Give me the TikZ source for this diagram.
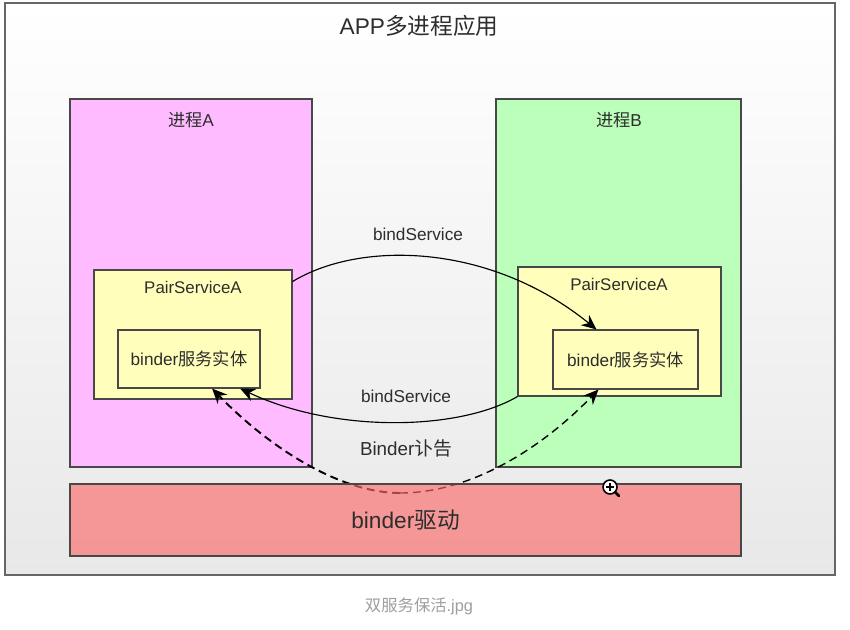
\documentclass[tikz,border=0pt]{standalone}
\usepackage{fontspec}
\setmainfont{Liberation Sans}
\newfontfamily\cjk{Noto Sans CJK SC}
\definecolor{bdgray}{RGB}{72,72,72}
\definecolor{bdtext}{RGB}{45,45,45}
\definecolor{bdpink}{RGB}{255,187,255}
\definecolor{bdgreen}{RGB}{187,255,187}
\definecolor{bdyellow}{RGB}{255,255,187}
\definecolor{bdred}{RGB}{252,107,107}
\usetikzlibrary{arrows.meta,positioning}
\tikzset{
  box/.style={draw=bdgray, line width=0.6pt, inner sep=0pt, font=\fontsize{9.8}{12}\selectfont, text=bdtext},
  label/.style={font=\fontsize{9.8}{12}\selectfont, text=bdtext, inner sep=0pt},
  link/.style={-{Stealth[length=8.5pt,width=7.5pt]}, line width=0.65pt, black},
  wake/.style={-{Stealth[length=8.5pt,width=7.5pt]}, dash pattern=on 4.5pt off 2.8pt, black}
}

\begin{document}
\begin{tikzpicture}
  \useasboundingbox (0,0) rectangle (17,12.58);

  % outer application frame
  \node[draw=black!60, line width=1.1pt, inner sep=0pt, top color=white, bottom color=black!9, minimum width=16.6cm, minimum height=11.44cm] (app) at (8.4,6.8) {};
  \node[label, font=\fontsize{12.9}{15}\selectfont] (apptitle) at (8.38,12.06) {APP{\cjk 多进程应用}};

  % the two processes
  \node[box, fill=bdpink, minimum width=4.84cm, minimum height=7.36cm] (procA) at (3.82,6.92) {};
  \node[box, fill=bdgreen, minimum width=4.9cm, minimum height=7.36cm] (procB) at (12.37,6.92) {};
  \node[label] (procAlabel) at (3.82,10.18) {{\cjk 进程}A};
  \node[label] (procBlabel) at (12.38,10.18) {{\cjk 进程}B};

  % services and their binder entities
  \node[box, fill=bdyellow, minimum width=3.96cm, minimum height=2.58cm] (pairA) at (3.86,5.89) {};
  \node[box, fill=bdyellow, minimum width=4.06cm, minimum height=2.58cm] (pairB) at (12.39,5.95) {};
  \node[label, font=\fontsize{9.6}{12}\selectfont] (pairAlabel) at (3.86,6.84) {PairServiceA};
  \node[label, font=\fontsize{9.6}{12}\selectfont] (pairBlabel) at (12.38,6.9) {PairServiceA};
  \node[box, fill=bdyellow, minimum width=2.84cm, minimum height=1.16cm] (binderA) at (3.78,5.4) {binder{\cjk 服务实体}};
  \node[box, fill=bdyellow, minimum width=2.9cm, minimum height=1.18cm] (binderB) at (12.51,5.39) {binder{\cjk 服务实体}};

  % bind calls
  \draw[link] (pairA.28) .. controls +(1.34,0.82) and +(-2.14,1.74) .. (binderB.134);
  \draw[link] (pairB.south west) .. controls +(-1.16,-0.68) and +(1.9,-0.9) .. (binderA.-30);
  \node[label] (bindtop) at (8.36,7.9) {bindService};
  \node[label] (bindlow) at (8.12,4.66) {bindService};
  \node[label, font=\fontsize{10.7}{13}\selectfont] (notice) at (8.12,3.62) {Binder{\cjk 讣告}};

  % death notices, drawn under the driver box
  \coordinate (drvlow) at (8.0,2.72);
  \draw[wake, line width=1.1pt] (drvlow) .. controls +(-1.2,0) and +(1.14,-1.18) .. (binderA.-52);
  \draw[wake, line width=0.8pt] (drvlow) .. controls +(1.4,0) and +(-1.16,-1.2) .. (binderB.228);

  \node[box, fill=bdred, fill opacity=0.65, text opacity=1, font=\fontsize{12.9}{15}\selectfont, minimum width=13.42cm, minimum height=1.44cm] (driver) at (8.11,2.18) {binder{\cjk 驱动}};

  % caption
  \node[label, font=\fontsize{9.3}{11}\selectfont, text=black!38] (caption) at (8.38,0.46) {{\cjk 双服务保活}.jpg};

  % zoom pointer
  \draw[line width=1.5pt, line cap=round] (12.28,2.76) -- (12.38,2.66);
  \draw[fill=white, line width=0.9pt] (12.2,2.84) circle (0.14);
  \draw[line width=1pt] (12.12,2.84) -- (12.28,2.84) (12.2,2.76) -- (12.2,2.92);
\end{tikzpicture}
\end{document}
